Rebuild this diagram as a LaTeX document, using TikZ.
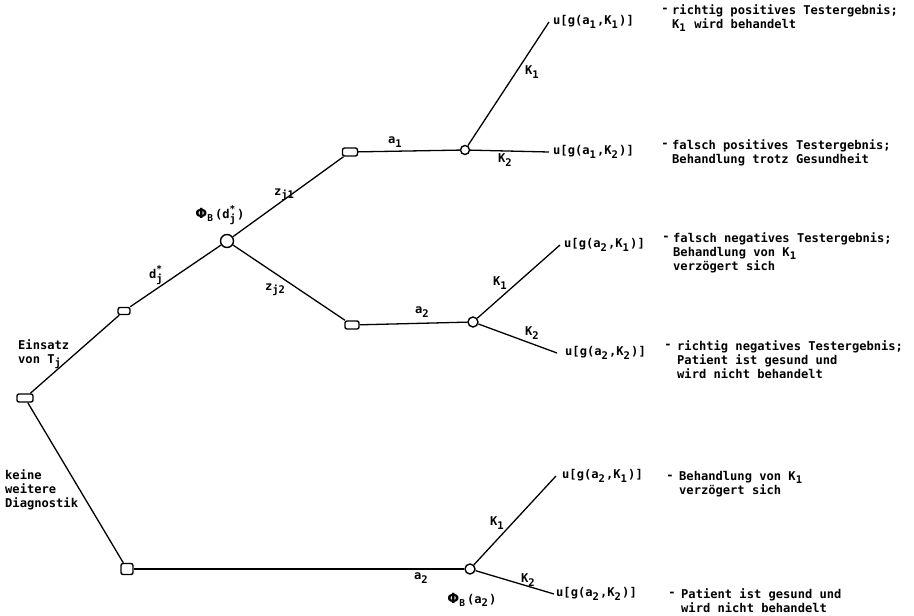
\documentclass[tikz,border=0pt]{standalone}
\usepackage{fontspec}
\newfontfamily\tw{DejaVu Sans Mono}
\newfontfamily\phif{DejaVu Sans}
\newcommand\lbl{\tw\bfseries\fontsize{12.1}{14.4}\selectfont}
\newcommand\sbs[1]{\raisebox{-0.5ex}{\fontsize{10.5}{10.5}\selectfont #1}\hspace{1.2pt}}
\newcommand\sps[1]{\raisebox{0.9ex}{\fontsize{9.5}{9.5}\selectfont #1}}
\newcommand\PhiB{{\phif\bfseries\fontsize{14}{14}\selectfont Φ}\raisebox{-0.45ex}{\fontsize{9.5}{9.5}\selectfont B}}
\tikzset{
  dec/.style={draw, line width=1.4pt, rounded corners=2pt, minimum width=14pt, minimum height=8pt, inner sep=0pt, fill=white},
  chance/.style={draw, circle, line width=1.4pt, minimum size=9pt, inner sep=0pt, fill=white},
  branch/.style={line width=1.3pt},
  lab/.style={inner sep=0pt, font=\lbl},
  desc/.style={inner sep=0pt, align=left, anchor=north west, font=\lbl},
}
\begin{document}
\begin{tikzpicture}[x=1pt,y=-1pt]
\useasboundingbox (0,0) rectangle (914,616);
% free ends of the branches
\coordinate (eA1) at (549,22);
\coordinate (eA2) at (549,152);
\coordinate (eB1) at (560,245);
\coordinate (eB2) at (557,353);
\coordinate (eC1) at (556,476);
\coordinate (eC2) at (554,594);
% decision (squares) and chance (circles) nodes
\node[dec, minimum width=16pt] (root) at (25,398) {};
\node[dec, minimum width=12pt, minimum height=7pt] (s1) at (124,311) {};
\node[chance, minimum size=13pt] (c1) at (227,241) {};
\node[dec, minimum width=15pt] (sA) at (350,152) {};
\node[chance] (cA) at (465,150) {};
\node[dec] (sB) at (352,325) {};
\node[chance, minimum size=10pt] (cB) at (473,322) {};
\node[dec, minimum width=12pt, minimum height=11pt] (sC) at (127,569) {};
\node[chance, minimum size=10pt] (cC) at (470,569) {};
% branches
\draw[branch] (root) -- (s1);
\draw[branch] (s1) -- (c1);
\draw[branch] (c1) -- (sA);
\draw[branch] (c1) -- (sB);
\draw[branch] (sA) -- (cA);
\draw[branch] (cA) -- (eA1);
\draw[branch] (cA) -- (eA2);
\draw[branch] (sB) -- (cB);
\draw[branch] (cB) -- (eB1);
\draw[branch] (cB) -- (eB2);
\draw[branch] (root) -- (sC);
\draw[branch] (sC) -- (cC);
\draw[branch] (cC) -- (eC1);
\draw[branch] (cC) -- (eC2);
% branch labels
\node[desc] (einsatz) at (18,339) {Einsatz\\von T\sbs{j}};
\node[lab] (dj) at (156,275) {d\rlap{\sps{*}}\sbs{j}};
\node[lab] (phid) at (220,215) {\PhiB\,(d\rlap{\sps{*}}\sbs{j})};
\node[lab] (zj1) at (284,195) {z\sbs{j1}};
\node[lab] (zj2) at (275,290) {z\sbs{j2}};
\node[lab] (la1) at (395,142) {a\sbs{1}};
\node[lab] (lk1a) at (532,72) {K\sbs{1}};
\node[lab] (lk2a) at (505,160) {K\sbs{2}};
\node[lab] (la2) at (422,312) {a\sbs{2}};
\node[lab] (lk1b) at (500,283) {K\sbs{1}};
\node[lab] (lk2b) at (532,333) {K\sbs{2}};
\node[desc] (keine) at (5,469) {keine\\weitere\\Diagnostik};
\node[lab] (la2c) at (421,578) {a\sbs{2}};
\node[lab] (lk1c) at (497,523) {K\sbs{1}};
\node[lab] (lk2c) at (528,580) {K\sbs{2}};
\node[lab] (phia) at (472,600) {\PhiB\,(a\sbs{2})};
% utilities
\node[lab, anchor=west] (uA1) at ([xshift=4pt]eA1) {u[g(a\sbs{1},K\sbs{1})]};
\node[lab, anchor=west] (uA2) at ([xshift=4pt]eA2) {u[g(a\sbs{1},K\sbs{2})]};
\node[lab, anchor=west] (uB1) at ([xshift=4pt]eB1) {u[g(a\sbs{2},K\sbs{1})]};
\node[lab, anchor=west] (uB2) at ([xshift=8pt]eB2) {u[g(a\sbs{2},K\sbs{2})]};
\node[lab, anchor=west] (uC1) at ([xshift=6pt]eC1) {u[g(a\sbs{2},K\sbs{1})]};
\node[lab, anchor=west] (uC2) at ([xshift=2pt]eC2) {u[g(a\sbs{2},K\sbs{2})]};
% descriptions
\node[lab] (m1) at (665,10) {-};
\node[desc] (d1) at (672,4) {richtig positives Testergebnis;\\K\sbs{1} wird behandelt};
\node[lab] (m2) at (665,145) {-};
\node[desc] (d2) at (672,139) {falsch positives Testergebnis;\\Behandlung trotz Gesundheit};
\node[lab] (m3) at (666,238) {-};
\node[desc] (d3) at (673,232) {falsch negatives Testergebnis;\\Behandlung von K\sbs{1}\\verzögert sich};
\node[lab] (m4) at (668,346) {-};
\node[desc] (d4) at (677,340) {richtig negatives Testergebnis;\\Patient ist gesund und\\wird nicht behandelt};
\node[lab] (m5) at (670,477) {-};
\node[desc] (d5) at (679,471) {Behandlung von K\sbs{1}\\verzögert sich};
\node[lab] (m6) at (672,594) {-};
\node[desc] (d6) at (681,588) {Patient ist gesund und\\wird nicht behandelt};
\end{tikzpicture}
\end{document}
